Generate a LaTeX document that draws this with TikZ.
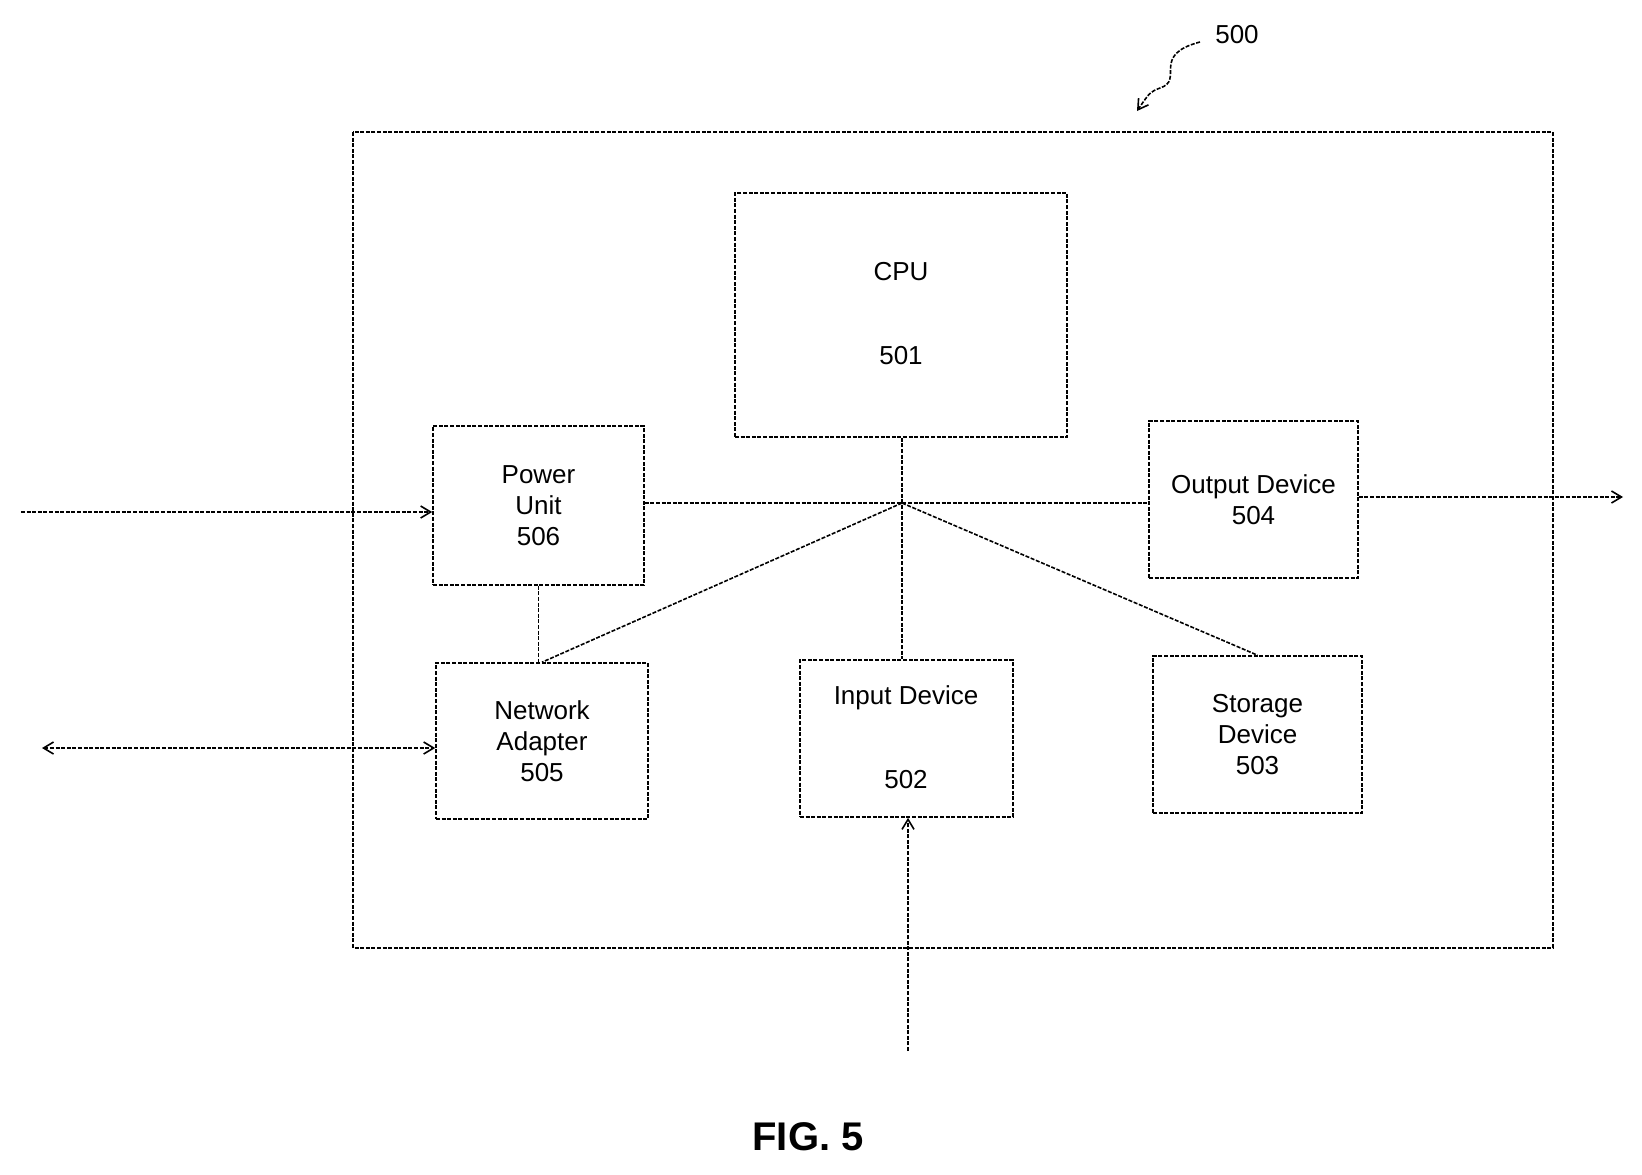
\documentclass[tikz,border=0pt]{standalone}
\usepackage{fontspec}
\setmainfont{Liberation Sans}
\usetikzlibrary{arrows.meta}
\begin{document}
\begin{tikzpicture}[x=0.5pt,y=-0.5pt,
  ln/.style={line width=0.8pt,dash pattern=on 2pt off 0.8pt},
  box/.style={ln,draw,inner sep=0pt,font=\fontsize{13}{15.5}\selectfont,align=center},
  arr/.style={ln,-{Straight Barb[length=5pt,width=6pt]}}]
\useasboundingbox (0,0) rectangle (1642,1174);
\draw[ln] (353,132) rectangle (1553,948);
\node[box,minimum width=332pt*0.5,minimum height=244pt*0.5] (cpu) at (901,315) {};
\node at (901,272) {\fontsize{13}{15}\selectfont CPU};
\node at (901,356) {\fontsize{13}{15}\selectfont 501};
\node[box,minimum width=105.5pt,minimum height=79.5pt] (pw) at (538.5,505.5) {Power\\Unit\\506};
\node[box,minimum width=106pt,minimum height=78pt] (na) at (542,741) {Network\\Adapter\\505};
\node[box,minimum width=106.5pt,minimum height=78.5pt] (in) at (906.5,738.5) {};
\node at (906,698) {\fontsize{13}{15}\selectfont Input Device};
\node at (906,780) {\fontsize{13}{15}\selectfont 502};
\node[box,minimum width=104.5pt,minimum height=78.5pt] (st) at (1257.5,734.5) {Storage\\Device\\503};
\node[box,minimum width=104.5pt,minimum height=78.5pt] (out) at (1253.5,499.5) {Output Device\\504};
\coordinate (hub) at (902,503);
\draw[ln] (pw.east|-hub) -- (out.west|-hub);
\draw[ln] (cpu.south-|hub) -- (hub) -- (in.north-|hub);
\draw[ln] (hub) -- (na.north);
\draw[ln] (hub) -- (st.north);
\draw[ln] (pw.south) -- (na.north-|pw.south);
\coordinate (pin) at (21,512);
\draw[arr] (pin) -- (pin-|pw.west);
\coordinate (nin) at (42,748);
\draw[ln,{Straight Barb[length=5pt,width=6pt]}-{Straight Barb[length=5pt,width=6pt]}] (nin) -- (nin-|na.west);
\coordinate (iin) at (908,1051);
\draw[arr] (iin) -- (iin|-in.south);
\coordinate (oout) at (1623,497);
\draw[arr] (out.east|-oout) -- (oout);
\node[font=\fontsize{13}{15}\selectfont] (lbl) at (1237,35) {500};
\coordinate (lt) at (1137,111);
\draw[ln,-{Straight Barb[length=5pt,width=6pt]}] (1200,42) .. controls (1150,55) and (1185,80) .. (1160,88) .. controls (1150,92) .. (lt);
\node[font=\bfseries\fontsize{20}{24}\selectfont] (fig) at (808,1137) {FIG. 5};
\end{tikzpicture}
\end{document}
